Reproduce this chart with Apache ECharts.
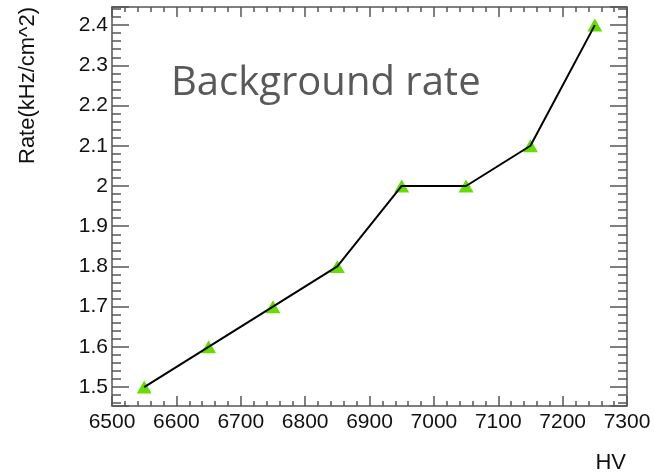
<!DOCTYPE html>
<html>
<head>
<meta charset="utf-8">
<script src="https://cdn.jsdelivr.net/npm/echarts@6/dist/echarts.min.js"></script>
<style>
    html, body { margin: 0; padding: 0; background: #fff; }
    #main { width: 654px; height: 475px; }
</style>
</head>
<body>
<div id="main"></div>
<script>
    // HV setting vs measured background rate
    var hv = [6550, 6650, 6750, 6850, 6950, 7050, 7150, 7250];
    var rate = [1.5, 1.6, 1.7, 1.8, 2.0, 2.0, 2.1, 2.4];

    var points = hv.map(function (v, i) { return [v, rate[i]]; });

    var frameColor = '#555';
    var labelFont = { color: '#111', fontSize: 21, fontFamily: 'Liberation Sans' };

    function xAxisCfg(pos, showLabel) {
        return {
            type: 'value',
            position: pos,
            min: 6500,
            max: 7300,
            interval: 100,
            axisLine: { show: true, onZero: false, lineStyle: { color: frameColor, width: 1.5 } },
            axisTick: { show: true, inside: true, length: 10, lineStyle: { color: frameColor, width: 1.5 } },
            minorTick: { show: true, splitNumber: 5, length: 5, lineStyle: { color: frameColor, width: 1.5 } },
            splitLine: { show: false },
            axisLabel: Object.assign({
                show: showLabel, margin: 6,
                formatter: function (v) { return String(v); }
            }, labelFont)
        };
    }

    function yAxisCfg(pos, showLabel) {
        return {
            type: 'value',
            position: pos,
            min: 1.453,
            max: 2.445,
            splitNumber: 10,
            axisLine: { show: true, onZero: false, lineStyle: { color: frameColor, width: 1.5 } },
            axisTick: { show: true, inside: true, length: 17, lineStyle: { color: frameColor, width: 1.5 } },
            minorTick: { show: true, splitNumber: 5, length: 9, lineStyle: { color: frameColor, width: 1.5 } },
            splitLine: { show: false },
            axisLabel: Object.assign({ show: showLabel, margin: 4, showMinLabel: false, showMaxLabel: false }, labelFont)
        };
    }

    var chart = echarts.init(document.getElementById('main'));
    chart.setOption({
        animation: false,
        grid: { left: 112, top: 7, right: 27, bottom: 69 },
        xAxis: [xAxisCfg('bottom', true), xAxisCfg('top', false)],
        yAxis: [yAxisCfg('left', true), yAxisCfg('right', false)],
        graphic: [
            {
                type: 'text',
                x: 28, y: 7,
                rotation: Math.PI / 2,
                style: {
                    text: 'Rate(kHz/cm^2)',
                    fill: '#111',
                    font: '22px "Liberation Sans"',
                    align: 'right',
                    verticalAlign: 'middle'
                }
            },
            {
                type: 'text',
                right: 28, top: 452,
                style: { text: 'HV', fill: '#111', font: '22px "Liberation Sans"' }
            },
            {
                type: 'text',
                left: 171, top: 64,
                style: { text: 'Background rate', fill: '#595959', font: '40px "Open Sans"' }
            }
        ],
        series: [
            {
                type: 'scatter',
                data: points,
                symbol: 'triangle',
                symbolSize: [15, 13],
                itemStyle: { color: '#66dd00', opacity: 1 },
                z: 2
            },
            {
                type: 'line',
                data: points,
                showSymbol: false,
                symbol: 'none',
                lineStyle: { color: '#000', width: 2 },
                z: 3
            }
        ]
    });
</script>
</body>
</html>
